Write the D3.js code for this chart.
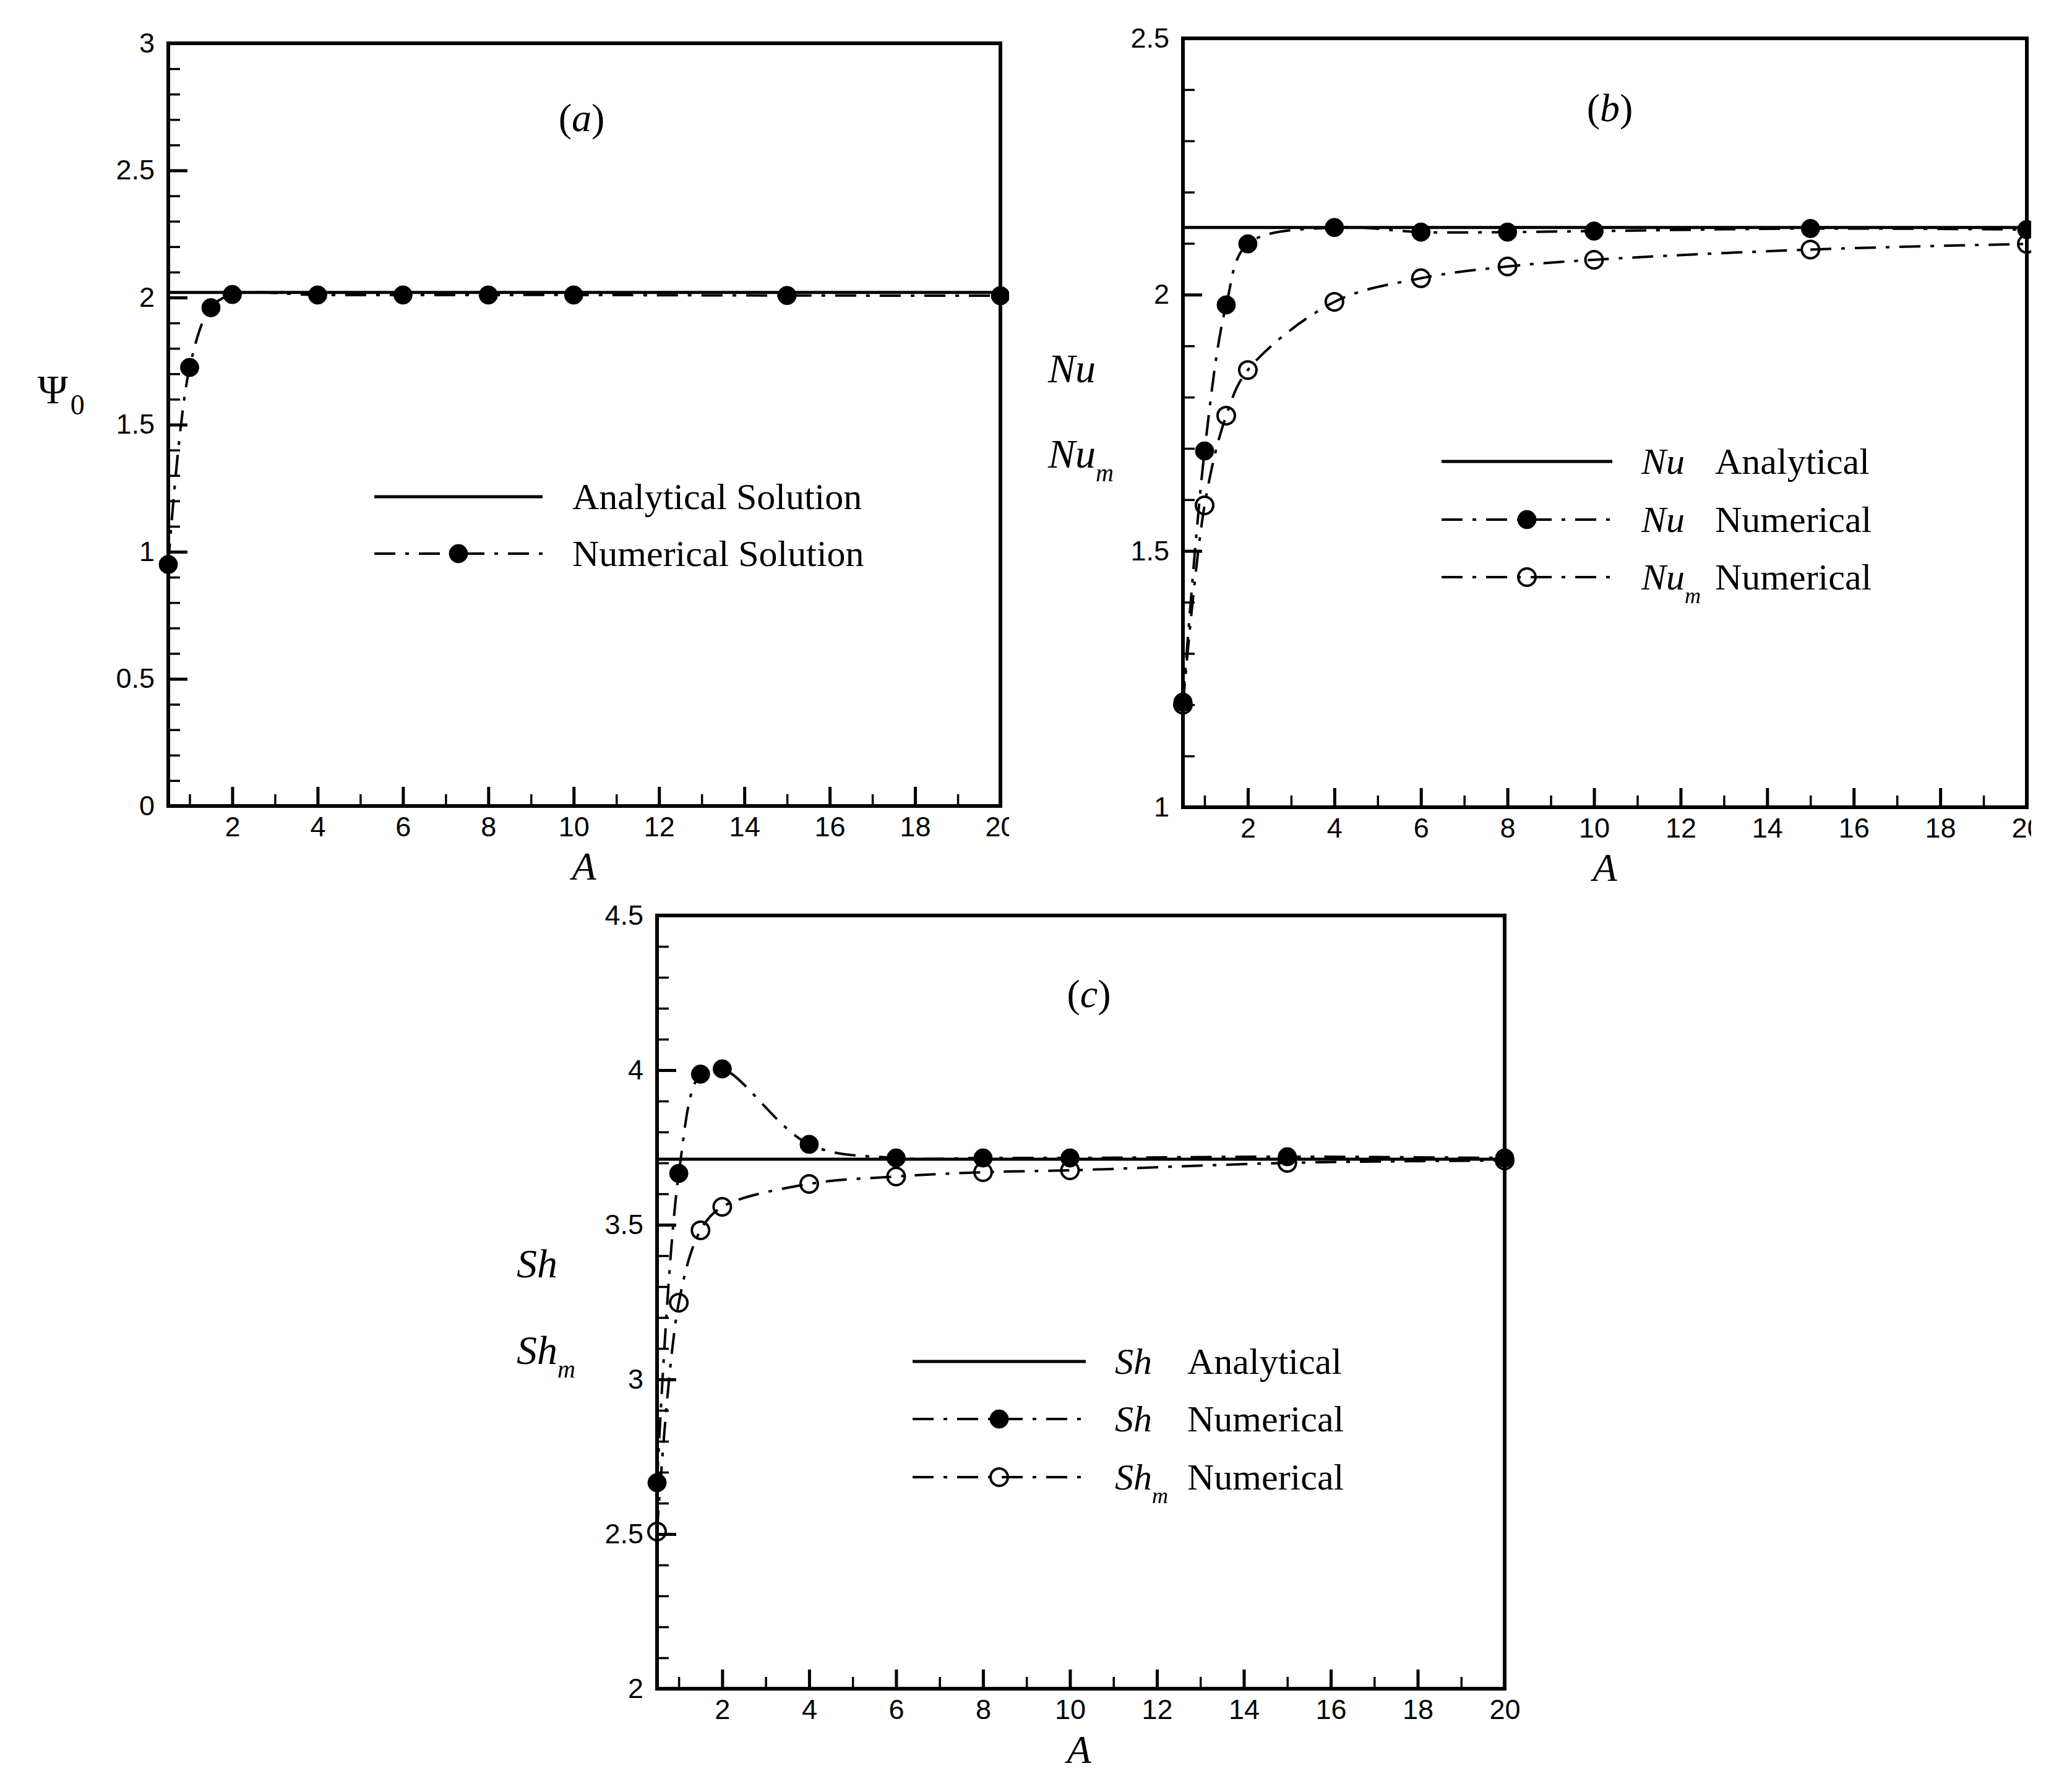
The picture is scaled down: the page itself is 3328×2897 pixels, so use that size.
<!DOCTYPE html>
<html>
<head>
<meta charset="utf-8">
<script src="https://cdn.jsdelivr.net/npm/d3@7"></script>
<style>
  body { margin: 0; background: #fff; }
  .tick text { font-family: "Liberation Sans", Arial, sans-serif; font-size: 45px; fill: #000; }
  .serif { font-family: "Liberation Serif", "Times New Roman", serif; fill: #000; }
</style>
</head>
<body>
<script>
// aspect ratios where the numerical runs were made
const aspectRatios = [0.5, 1, 1.5, 2, 4, 6, 8, 10, 15, 20];

// (a) stream function
const psiAnalytical = 2.02;
const psiNumerical = [0.95, 1.725, 1.96, 2.012, 2.01, 2.01, 2.01, 2.01, 2.008, 2.007];

// (b) Nusselt numbers
const nuAnalytical = 2.131;
const nuNumerical = [1.205, 1.695, 1.98, 2.099, 2.131, 2.122, 2.122, 2.124, 2.129, 2.127];
const nuMeanNumerical = [1.2, 1.589, 1.764, 1.853, 1.986, 2.032, 2.055, 2.068, 2.088, 2.099];

// (c) Sherwood numbers
const shAnalytical = 3.712;
const shNumerical = [2.666, 3.666, 3.987, 4.004, 3.76, 3.716, 3.716, 3.716, 3.72, 3.716];
const shMeanNumerical = [2.508, 3.248, 3.482, 3.558, 3.632, 3.656, 3.67, 3.676, 3.7, 3.708];

// tick labels
const xMajorTicks = [2, 4, 6, 8, 10, 12, 14, 16, 18, 20];
const xMinorTicks = [1, 3, 5, 7, 9, 11, 13, 15, 17, 19];
const psiTicks = [0, 0.5, 1, 1.5, 2, 2.5, 3];
const nuTicks = [1, 1.5, 2, 2.5];
const shTicks = [2, 2.5, 3, 3.5, 4, 4.5];

const dashDot = "34,16,6,16";

const svg = d3.select("body").append("svg")
    .attr("width", 3328)
    .attr("height", 2897);

svg.append("rect").attr("width", 3328).attr("height", 2897).attr("fill", "#fff");

const panels = [
    {
        id: "a", left: 272, right: 1617, top: 70, bottom: 1303,
        yTicks: psiTicks, clip: [0, 1631],
        analytical: psiAnalytical,
        series: [{values: psiNumerical, filled: true}],
        label: {x: 940, y: 212, letter: "a"},
        xLabel: {x: 944, y: 1422},
        yLabels: [{x: 61, y: 652, main: "\u03A8", sub: "0", italic: false}],
        legend: {x0: 605, x1: 877, mark: 741, symX: null, textX: 925, rows: [803, 895],
                 items: [{text: "Analytical Solution"}, {text: "Numerical Solution", filled: true}]}
    },
    {
        id: "b", left: 1912, right: 3276, top: 62, bottom: 1305,
        yTicks: nuTicks, clip: [1650, 3283],
        analytical: nuAnalytical,
        series: [{values: nuNumerical, filled: true}, {values: nuMeanNumerical, filled: false}],
        label: {x: 2602, y: 196, letter: "b"},
        xLabel: {x: 2594, y: 1424},
        yLabels: [{x: 1694, y: 618, main: "Nu", italic: true},
                  {x: 1694, y: 756, main: "Nu", sub: "m", italic: true}],
        legend: {x0: 2330, x1: 2606, mark: 2468, symX: 2653, textX: 2772, rows: [746, 840, 933],
                 items: [{sym: "Nu", text: "Analytical"},
                         {sym: "Nu", text: "Numerical", filled: true},
                         {sym: "Nu", sub: "m", text: "Numerical", filled: false}]}
    },
    {
        id: "c", left: 1062, right: 2432, top: 1480, bottom: 2730,
        yTicks: shTicks, clip: null,
        analytical: shAnalytical,
        series: [{values: shNumerical, filled: true}, {values: shMeanNumerical, filled: false}],
        label: {x: 1760, y: 1628, letter: "c"},
        xLabel: {x: 1744, y: 2850},
        yLabels: [{x: 835, y: 2065, main: "Sh", italic: true},
                  {x: 835, y: 2205, main: "Sh", sub: "m", italic: true}],
        legend: {x0: 1475, x1: 1755, mark: 1615, symX: 1802, textX: 1919, rows: [2201, 2294, 2388],
                 items: [{sym: "Sh", text: "Analytical"},
                         {sym: "Sh", text: "Numerical", filled: true},
                         {sym: "Sh", sub: "m", text: "Numerical", filled: false}]}
    }
];

function drawMarker(g, cx, cy, filled)
{
    g.append("circle")
        .attr("cx", cx)
        .attr("cy", cy)
        .attr("r", filled ? 15 : 14)
        .attr("fill", filled ? "#000" : "none")
        .attr("stroke", "#000")
        .attr("stroke-width", filled ? 1 : 4);
}

function drawPanel(p)
{
    let g = svg.append("g");

    if (p.clip) {
        svg.append("clipPath").attr("id", "clip-" + p.id)
            .append("rect")
            .attr("x", p.clip[0]).attr("y", 0)
            .attr("width", p.clip[1] - p.clip[0]).attr("height", 2897);
        g.attr("clip-path", "url(#clip-" + p.id + ")");
    }

    const yDomain = d3.extent(p.yTicks);
    const x = d3.scaleLinear().domain([0.5, 20]).range([p.left, p.right]);
    const y = d3.scaleLinear().domain(yDomain).range([p.bottom, p.top]);

    // minor ticks
    const yMinor = d3.range(Math.round(yDomain[0] * 10), Math.round(yDomain[1] * 10) + 1)
        .map(v => v / 10)
        .filter(v => !p.yTicks.some(t => Math.abs(t - v) < 1e-6));

    g.append("g")
        .attr("transform", `translate(0,${p.bottom})`)
        .call(d3.axisBottom(x).tickValues(xMinorTicks).tickSize(-19).tickFormat(""))
        .call(a => a.select(".domain").remove())
        .call(a => a.selectAll("line").attr("stroke-width", 3.5));

    g.append("g")
        .attr("transform", `translate(${p.left},0)`)
        .call(d3.axisLeft(y).tickValues(yMinor).tickSize(-19).tickFormat(""))
        .call(a => a.select(".domain").remove())
        .call(a => a.selectAll("line").attr("stroke-width", 3.5));

    // major ticks
    g.append("g")
        .attr("transform", `translate(0,${p.bottom})`)
        .call(d3.axisBottom(x).tickValues(xMajorTicks).tickSize(-31).tickPadding(17).tickFormat(d3.format("")))
        .call(a => a.select(".domain").remove())
        .call(a => a.selectAll("line").attr("stroke-width", 5))
        .call(a => a.selectAll("text").attr("font-family", null).attr("font-size", null));

    g.append("g")
        .attr("transform", `translate(${p.left},0)`)
        .call(d3.axisLeft(y).tickValues(p.yTicks).tickSize(-31).tickPadding(22).tickFormat(d3.format("")))
        .call(a => a.select(".domain").remove())
        .call(a => a.selectAll("line").attr("stroke-width", 5))
        .call(a => a.selectAll("text").attr("font-family", null).attr("font-size", null));

    // frame
    g.append("rect")
        .attr("x", p.left).attr("y", p.top)
        .attr("width", p.right - p.left).attr("height", p.bottom - p.top)
        .attr("fill", "none")
        .attr("stroke", "#000")
        .attr("stroke-width", 6);

    // analytical solution
    g.append("line")
        .attr("x1", x(0.5)).attr("x2", x(20))
        .attr("y1", y(p.analytical)).attr("y2", y(p.analytical))
        .attr("stroke", "#000")
        .attr("stroke-width", 5);

    const line = d3.line()
        .x(d => x(d[0]))
        .y(d => y(d[1]))
        .curve(d3.curveCatmullRom.alpha(0.5));

    p.series.forEach(s => {
        const pts = aspectRatios.map((a, i) => [a, s.values[i]]);
        g.append("path")
            .attr("d", line(pts))
            .attr("fill", "none")
            .attr("stroke", "#000")
            .attr("stroke-width", 4)
            .attr("stroke-dasharray", dashDot);
        pts.forEach(d => drawMarker(g, x(d[0]), y(d[1]), s.filled));
    });

    // panel letter
    let lab = g.append("text").attr("class", "serif")
        .attr("x", p.label.x).attr("y", p.label.y)
        .attr("text-anchor", "middle")
        .attr("font-size", 64);
    lab.append("tspan").text("(");
    lab.append("tspan").attr("font-style", "italic").text(p.label.letter);
    lab.append("tspan").text(")");

    g.append("text").attr("class", "serif")
        .attr("x", p.xLabel.x).attr("y", p.xLabel.y)
        .attr("text-anchor", "middle")
        .attr("font-size", 64)
        .attr("font-style", "italic")
        .text("A");

    p.yLabels.forEach(l => {
        let t = svg.append("text").attr("class", "serif")
            .attr("x", l.x).attr("y", l.y)
            .attr("font-size", 66)
            .attr("font-style", l.italic ? "italic" : "normal");
        t.append("tspan").text(l.main);
        if (l.sub) {
            t.append("tspan")
                .attr("font-size", l.italic ? 40 : 46)
                .attr("dx", l.italic ? 0 : 4)
                .attr("dy", l.italic ? 22 : 18)
                .text(l.sub);
        }
    });

    // legend
    const lg = p.legend;
    lg.items.forEach((item, i) => {
        const ry = lg.rows[i];
        g.append("line")
            .attr("x1", lg.x0).attr("x2", lg.x1)
            .attr("y1", ry).attr("y2", ry)
            .attr("stroke", "#000")
            .attr("stroke-width", item.filled === undefined ? 5 : 4)
            .attr("stroke-dasharray", item.filled === undefined ? null : dashDot);
        if (item.filled !== undefined) {
            drawMarker(g, lg.mark, ry, item.filled);
        }
        if (item.sym) {
            let s = g.append("text").attr("class", "serif")
                .attr("x", lg.symX).attr("y", ry + 20)
                .attr("font-size", 60)
                .attr("font-style", "italic");
            s.append("tspan").text(item.sym);
            if (item.sub) {
                s.append("tspan").attr("font-size", 36).attr("dy", 22).text(item.sub);
            }
        }
        g.append("text").attr("class", "serif")
            .attr("x", lg.textX).attr("y", ry + 20)
            .attr("font-size", 60)
            .text(item.text);
    });
}

panels.forEach(drawPanel);
</script>
</body>
</html>
